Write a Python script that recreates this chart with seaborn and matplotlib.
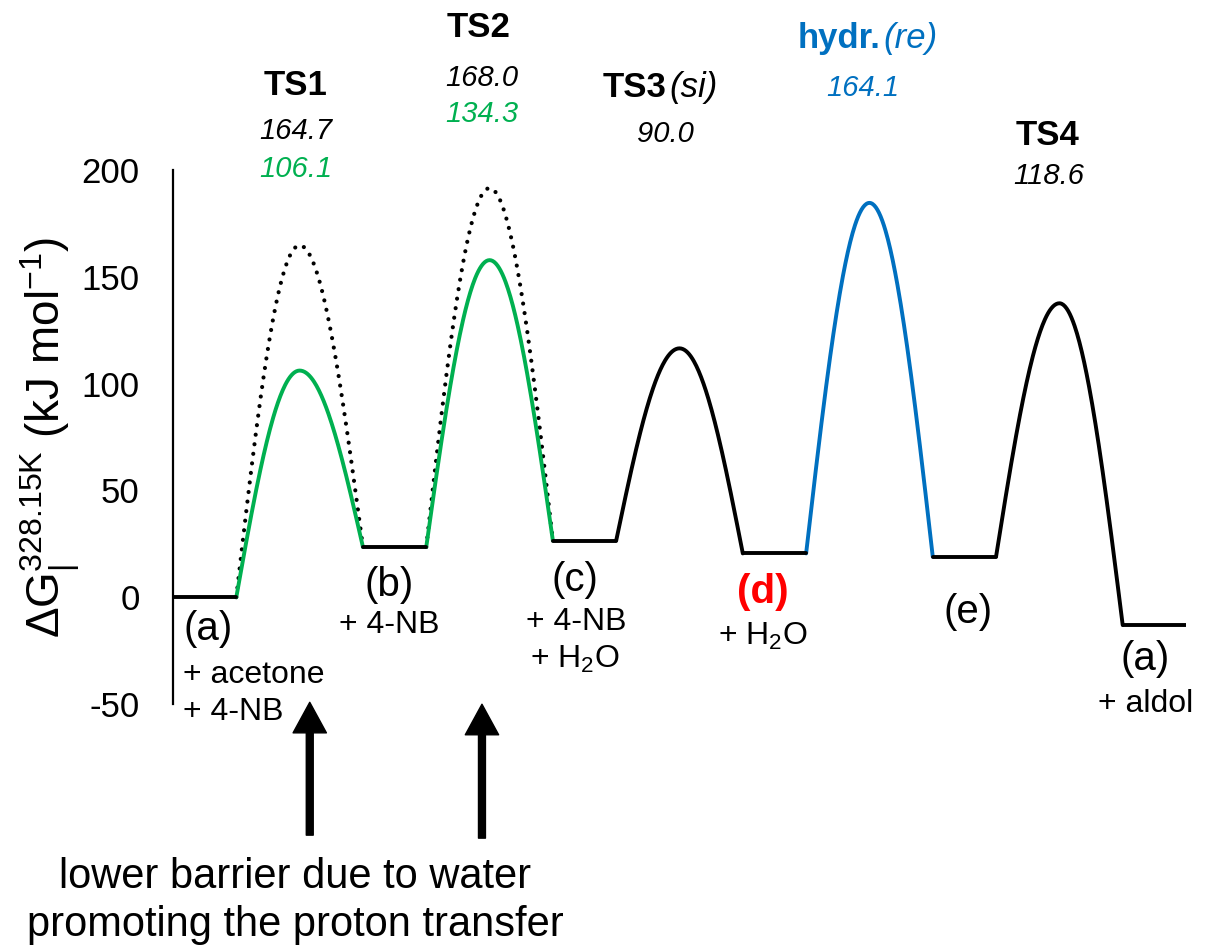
import numpy as np
import matplotlib
matplotlib.use("Agg")
import matplotlib.pyplot as plt
from matplotlib import font_manager
import seaborn as sns

# Free energies of the intermediates along the cycle (kJ/mol)
states = ["(a)", "(b)", "(c)", "(d)", "(e)", "(a)"]
state_G = [0.0, 23.5, 26.5, 20.5, 19.0, -13.0]

# Barriers measured from the preceding intermediate (kJ/mol)
ts_names = ["TS1", "TS2", "TS3", "hydr.", "TS4"]
ts_tags = ["", "", "(si)", "(re)", ""]
barrier = [164.7, 168.0, 90.0, 164.1, 118.6]
# Water-assisted proton transfer barriers for TS1 and TS2 (kJ/mol)
barrier_water = [106.1, 134.3]

ytick_vals = [-50, 0, 50, 100, 150, 200]

sns.set_style("white")
plt.rcParams["font.family"] = ["Liberation Sans", "DejaVu Sans"]
plt.rcParams["mathtext.fontset"] = "custom"
plt.rcParams["mathtext.rm"] = "Liberation Sans"
plt.rcParams["mathtext.it"] = "Liberation Sans:italic"
plt.rcParams["mathtext.bf"] = "Liberation Sans:bold"
plt.rcParams["text.color"] = "black"
plt.rcParams["axes.labelcolor"] = "black"
plt.rcParams["ytick.color"] = "black"
plt.rcParams["xtick.color"] = "black"

try:
    font_manager.findfont("Liberation Sans Narrow", fallback_to_default=False)
    note_family, note_size = ["Liberation Sans Narrow", "DejaVu Sans"], 34
except ValueError:
    note_family, note_size = ["Liberation Sans", "DejaVu Sans"], 30

GREEN = "#00B050"
BLUE = "#0070C0"
RED = "#FF0000"
LW = 2.8


def hump(x0, g_left, g_peak, g_right, n=80):
    """Smooth barrier from x0 to x0+2 with its maximum at x0+1."""
    t = np.linspace(0.0, 1.0, n)
    xl = x0 + t
    yl = g_left + (g_peak - g_left) * np.sin(np.pi / 2 * t)
    xr = x0 + 1 + t
    yr = g_right + (g_peak - g_right) * np.cos(np.pi / 2 * t)
    return np.r_[xl, xr[1:]], np.r_[yl, yr[1:]]


def line(xs, ys, **kw):
    sns.lineplot(x=xs, y=ys, ax=ax, estimator=None, sort=False, **kw)


fig = plt.figure(figsize=(12.09, 9.48), dpi=100)
ax = fig.add_axes([173 / 1209, 244 / 948, 1013 / 1209, 534 / 948])

# barriers
hump_colors = [GREEN, GREEN, "black", BLUE, "black"]
for i, b in enumerate(barrier):
    x0 = 3 * i + 1
    gl, gr = state_G[i], state_G[i + 1]
    xs, ys = hump(x0, gl, gl + b, gr)
    if i < len(barrier_water):
        line(xs, ys, color="black", lw=3.0, linestyle=(0, (0.01, 2.3)),
             dash_capstyle="round")
        xs, ys = hump(x0, gl, gl + barrier_water[i], gr)
        line(xs, ys, color=GREEN, lw=LW)
    else:
        line(xs, ys, color=hump_colors[i], lw=LW)

# intermediates
for i, g in enumerate(state_G):
    line([3 * i, 3 * i + 1], [g, g], color="black", lw=LW)

ax.set_xlim(0, 16)
ax.set_ylim(-50, 200)
ax.set_xticks([])
ax.set_yticks(ytick_vals)
ax.set_yticklabels([str(v) for v in ytick_vals])
ax.tick_params(axis="y", length=0, pad=24, labelsize=25, colors="black")
for side in ("top", "right", "bottom"):
    ax.spines[side].set_visible(False)
ax.spines["left"].set_linewidth(1.6)
ax.spines["left"].set_color("black")
ax.set_xlabel("")
ax.set_ylabel("")

fig.text(50 / 1209, 1 - 438 / 948,
         r"$\mathregular{ΔG_{|}^{328.15K}}$ (kJ mol$^{\mathregular{-1}}$)",
         rotation=90, ha="center", va="center", fontsize=33)

# transition state labels
TSZ, NUMZ = 25, 21
cb = "center_baseline"
ax.text(1.93, 241.1, ts_names[0], fontsize=TSZ, fontweight="bold", ha="center", va=cb)
ax.text(1.94, 219.6, f"{barrier[0]:.1f}", fontsize=NUMZ, style="italic", ha="center", va=cb)
ax.text(1.94, 201.8, f"{barrier_water[0]:.1f}", fontsize=NUMZ, style="italic",
        color=GREEN, ha="center", va=cb)

ax.text(4.83, 268.3, ts_names[1], fontsize=TSZ, fontweight="bold", ha="center", va=cb)
ax.text(4.88, 244.4, f"{barrier[1]:.1f}", fontsize=NUMZ, style="italic", ha="center", va=cb)
ax.text(4.88, 227.5, f"{barrier_water[1]:.1f}", fontsize=NUMZ, style="italic",
        color=GREEN, ha="center", va=cb)

t3 = ax.text(6.78, 240.2, ts_names[2], fontsize=TSZ, fontweight="bold", ha="left", va=cb)
ax.annotate(ts_tags[2], xy=(1, 0), xycoords=t3, xytext=(2, 0), textcoords="offset points",
            fontsize=TSZ, style="italic", ha="left", va="bottom")
ax.text(7.77, 218.2, f"{barrier[2]:.1f}", fontsize=NUMZ, style="italic", ha="center", va=cb)

th = ax.text(9.87, 263.1, ts_names[3], fontsize=TSZ, fontweight="bold", color=BLUE,
             ha="left", va=cb)
ax.annotate(ts_tags[3], xy=(1, 0), xycoords=th, xytext=(2, 0), textcoords="offset points",
            fontsize=TSZ, style="italic", color=BLUE, ha="left", va="bottom")
ax.text(10.9, 239.7, f"{barrier[3]:.1f}", fontsize=NUMZ, style="italic", color=BLUE,
        ha="center", va=cb)

ax.text(13.81, 217.7, ts_names[4], fontsize=TSZ, fontweight="bold", ha="center", va=cb)
ax.text(13.84, 198.5, f"{barrier[4]:.1f}", fontsize=NUMZ, style="italic", ha="center", va=cb)

# intermediate labels
SZ, NZ = 29, 23
ax.text(0.16, -15.0, states[0], fontsize=SZ, ha="left", va="center")
ax.text(0.16, -40.3, "+ acetone", fontsize=NZ, ha="left", va="baseline")
ax.text(0.16, -57.6, "+ 4-NB", fontsize=NZ, ha="left", va="baseline")

ax.text(3.41, 5.6, states[1], fontsize=SZ, ha="center", va="center")
ax.text(3.41, -16.9, "+ 4-NB", fontsize=NZ, ha="center", va="baseline")

ax.text(6.35, 8.0, states[2], fontsize=SZ, ha="center", va="center")
ax.text(6.37, -15.4, "+ 4-NB", fontsize=NZ, ha="center", va="baseline")
ax.text(6.35, -33.2, r"+ H$_{\mathregular{2}}$O", fontsize=NZ, ha="center", va="baseline")

ax.text(9.32, 2.3, states[3], fontsize=SZ, fontweight="bold", color=RED,
        ha="center", va="center")
ax.text(9.32, -22.5, r"+ H$_{\mathregular{2}}$O", fontsize=NZ, ha="center", va="baseline")

ax.text(12.56, -7.0, states[4], fontsize=SZ, ha="center", va="center")

ax.text(15.36, -29.0, states[5], fontsize=SZ, ha="center", va="center")
ax.text(15.36, -53.8, "+ aldol", fontsize=NZ, ha="center", va="baseline")

# arrows marking the water-assisted steps
for xa, y_tip, y_tail in [(2.16, -49.2, -111.4), (4.88, -50.1, -112.8)]:
    ax.annotate("", xy=(xa, y_tip), xytext=(xa, y_tail), annotation_clip=False,
                arrowprops=dict(facecolor="black", edgecolor="black", width=5,
                                headwidth=24, headlength=22, shrink=0.0))

ax.text(1.93, -136.2, "lower barrier due to water", fontsize=note_size,
        family=note_family, ha="center", va="baseline")
ax.text(1.93, -158.7, "promoting the proton transfer", fontsize=note_size,
        family=note_family, ha="center", va="baseline")

fig.savefig("out.png", dpi=100, facecolor="white")
